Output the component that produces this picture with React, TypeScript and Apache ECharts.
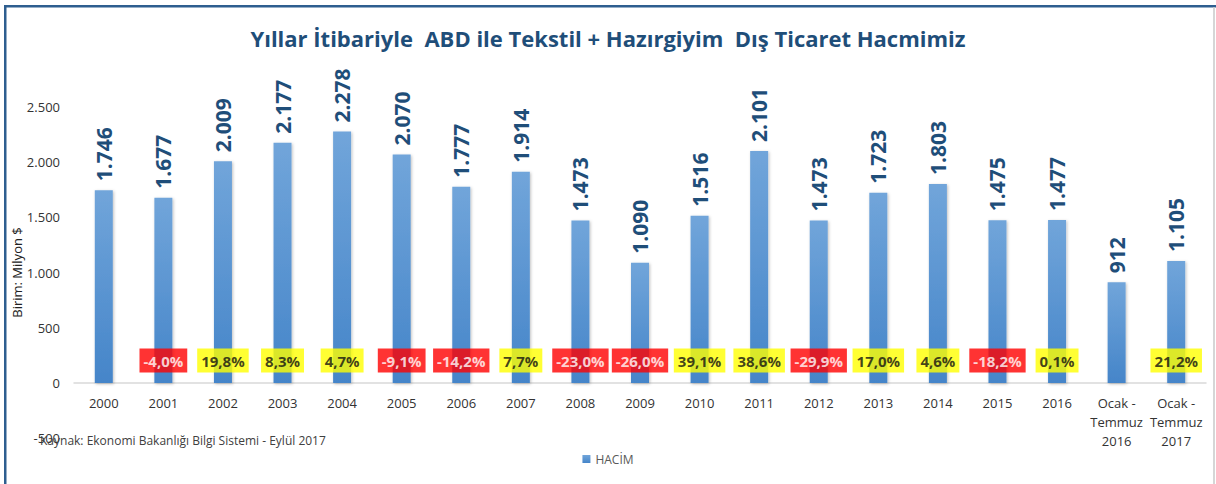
import React, { useEffect, useRef } from "react";
import * as echarts from "echarts";

const categories = [
  "2000", "2001", "2002", "2003", "2004", "2005", "2006", "2007", "2008", "2009",
  "2010", "2011", "2012", "2013", "2014", "2015", "2016",
  "Ocak -\nTemmuz\n2016", "Ocak -\nTemmuz\n2017",
];
const volumes = [
  1746, 1677, 2009, 2177, 2278, 2070, 1777, 1914, 1473, 1090,
  1516, 2101, 1473, 1723, 1803, 1475, 1477, 912, 1105,
];
const changes: (number | null)[] = [
  null, -4.0, 19.8, 8.3, 4.7, -9.1, -14.2, 7.7, -23.0, -26.0,
  39.1, 38.6, -29.9, 17.0, 4.6, -18.2, 0.1, null, 21.2,
];
const yTicks = { min: -500, max: 2500, interval: 500 };
const titleText = "Yıllar İtibariyle  ABD ile Tekstil + Hazırgiyim  Dış Ticaret Hacmimiz";
const seriesName = "HACİM";
const sourceText = "Kaynak: Ekonomi Bakanlığı Bilgi Sistemi - Eylül 2017";

const FONT = "'Open Sans', sans-serif";

function fmtThousands(v: number): string {
  const s = Math.abs(Math.round(v)).toString();
  const out = s.replace(/\B(?=(\d{3})+(?!\d))/g, ".");
  return (v < 0 ? "-" : "") + out;
}
function fmtPct(p: number): string {
  return p.toFixed(1).replace(".", ",") + "%";
}

export default function App() {
  const ref = useRef<HTMLDivElement>(null);
  useEffect(() => {
    document.body.style.margin = "0";
    if (!ref.current) return;
    const chart = echarts.init(ref.current, null, { renderer: "svg" });
    const pctData = changes.map((p, i) => (p == null ? null : [i, 0]));
    const boxStyle = {
      fontFamily: FONT,
      fontSize: 15,
      fontWeight: "bold",
      lineHeight: 17,
      padding: [5, 4, 4, 4],
    };
    chart.setOption({
      animation: false,
      textStyle: { fontFamily: FONT },
      title: {
        text: titleText,
        left: "center",
        top: 22,
        textStyle: { fontFamily: FONT, fontSize: 22, fontWeight: "bold", color: "#1f4e79" },
      },
      legend: {
        data: [seriesName],
        bottom: 14,
        left: "center",
        icon: "rect",
        itemWidth: 8,
        itemHeight: 8,
        itemGap: 6,
        textStyle: { fontFamily: FONT, fontSize: 12, color: "#595959" },
      },
      grid: [
        { left: 74, right: 10, top: 107, bottom: 101, containLabel: false, outerBoundsMode: "none" },
        { left: 74, right: 10, top: 107, bottom: 46, containLabel: false, outerBoundsMode: "none" },
      ],
      xAxis: [
        {
          type: "category",
          gridIndex: 0,
          data: categories,
          axisLine: { show: true, lineStyle: { color: "#d9d9d9", width: 1.5 } },
          axisTick: { show: false },
          axisLabel: {
            interval: 0,
            margin: 10,
            fontFamily: FONT,
            fontSize: 13,
            lineHeight: 19,
            color: "#333333",
          },
        },
        {
          type: "category",
          gridIndex: 1,
          data: categories,
          show: false,
        },
      ],
      yAxis: [
        {
          type: "value",
          gridIndex: 0,
          min: 0,
          max: yTicks.max,
          interval: yTicks.interval,
          axisLine: { show: false },
          axisTick: { show: false },
          splitLine: { show: false },
          axisLabel: { show: false },
        },
        {
          type: "value",
          gridIndex: 1,
          min: yTicks.min,
          max: yTicks.max,
          interval: yTicks.interval,
          name: "Birim: Milyon $",
          nameLocation: "middle",
          nameGap: 51,
          nameMoveOverlap: false,
          nameTextStyle: { fontFamily: FONT, fontSize: 13, color: "#222222" },
          axisLine: { show: false },
          axisTick: { show: false },
          splitLine: { show: false },
          axisLabel: {
            margin: 14,
            fontFamily: FONT,
            fontSize: 13,
            color: "#333333",
            formatter: (v: number) => fmtThousands(v),
          },
        },
      ],
      series: [
        {
          name: seriesName,
          type: "bar",
          xAxisIndex: 0,
          yAxisIndex: 0,
          data: volumes,
          barWidth: 18,
          itemStyle: {
            color: new echarts.graphic.LinearGradient(0, 0, 0, 1, [
              { offset: 0, color: "#71a5da" },
              { offset: 1, color: "#4585c9" },
            ]),
            shadowColor: "rgba(0,0,0,0.25)",
            shadowBlur: 3,
            shadowOffsetX: 1,
            shadowOffsetY: 1,
          },
          label: {
            show: true,
            position: "top",
            rotate: 90,
            align: "left",
            verticalAlign: "middle",
            distance: 9,
            fontFamily: FONT,
            fontSize: 21,
            fontWeight: "bold",
            color: "#1f4e79",
            formatter: (p: any) => fmtThousands(p.value),
          },
        },
        {
          name: "pct",
          type: "scatter",
          xAxisIndex: 0,
          yAxisIndex: 0,
          data: pctData,
          symbolSize: 2,
          itemStyle: { color: "transparent" },
          silent: true,
          z: 5,
          label: {
            show: true,
            position: "top",
            distance: 13,
            formatter: (p: any) => {
              const v = changes[p.dataIndex];
              if (v == null) return "";
              return v < 0 ? `{neg|${fmtPct(v)}}` : `{pos|${fmtPct(v)}}`;
            },
            rich: {
              neg: { ...boxStyle, backgroundColor: "#ff0000", color: "#ffffff" },
              pos: { ...boxStyle, backgroundColor: "#ffff00", color: "#111111" },
            },
          },
          labelLayout: { hideOverlap: false },
        },
      ],
      graphic: [
        {
          type: "rect",
          shape: { x: 4, y: 5, width: 1212, height: 2.5 },
          style: { fill: "#2e5e8f" },
          silent: true,
        },
        {
          type: "rect",
          shape: { x: 4, y: 5, width: 2.5, height: 479 },
          style: { fill: "#2e5e8f" },
          silent: true,
        },
        {
          type: "line",
          shape: { x1: 1214, y1: 7, x2: 1214, y2: 484 },
          style: { stroke: "#c8c8c8", lineWidth: 1.5 },
          silent: true,
        },
        {
          type: "text",
          left: 40,
          top: 434,
          z: 10,
          style: {
            text: sourceText,
            fontFamily: FONT,
            fontSize: 12,
            fill: "#404040",
          },
        },
      ],
    });
    return () => chart.dispose();
  }, []);
  return <div ref={ref} style={{ width: 1216, height: 484 }} />;
}
